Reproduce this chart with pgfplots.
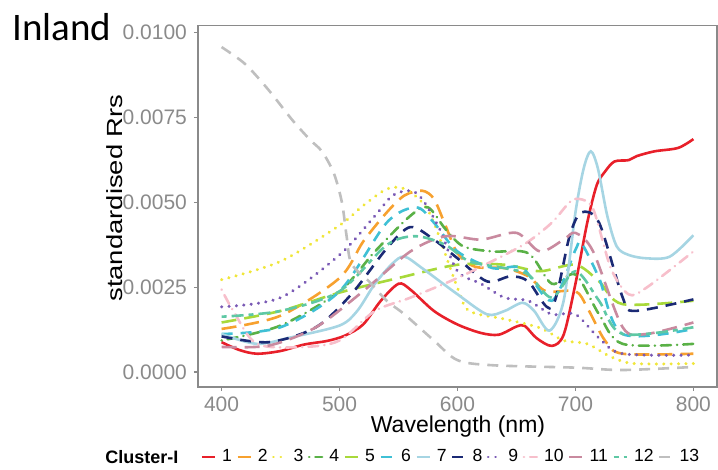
\documentclass[border=0pt]{standalone}
\usepackage{pgfplots}
\pgfplotsset{compat=1.18}
\usepackage{fontspec}
\setmainfont{Liberation Sans}
\newfontfamily\calibri{Carlito}
\definecolor{cA}{HTML}{E8202A}
\definecolor{cB}{HTML}{F7A12F}
\definecolor{cC}{HTML}{F0E63A}
\definecolor{cD}{HTML}{5AB147}
\definecolor{cE}{HTML}{A8D93A}
\definecolor{cF}{HTML}{3FC0D5}
\definecolor{cG}{HTML}{A6D5E3}
\definecolor{cH}{HTML}{1B2A75}
\definecolor{cI}{HTML}{7A5AB5}
\definecolor{cJ}{HTML}{F7BFCB}
\definecolor{cK}{HTML}{C98A9F}
\definecolor{cL}{HTML}{5EC8A4}
\definecolor{cM}{HTML}{BFBFBF}
\definecolor{tickgray}{HTML}{8A8A8A}
\definecolor{axgray}{HTML}{8A8A8A}
\tikzset{
  ldashed/.style={dash pattern=on 5.5pt off 4pt},
  ldotted/.style={dash pattern=on 0.1pt off 3.6pt, line cap=round, line width=1.6pt},
  ldotdash/.style={dash pattern=on 0.1pt off 3pt on 5pt off 3pt, line cap=round},
  llongdash/.style={dash pattern=on 7.5pt off 4pt},
  ltwodash/.style={dash pattern=on 2.5pt off 2.5pt on 6pt off 2.5pt},
}
\begin{document}
\begin{tikzpicture}[x=1pt,y=1pt]
\path[use as bounding box] (-99,-41.5) rectangle (260,193.5);
\begin{axis}[at={(0,0)}, anchor=south west, scale only axis,
  width=259.5pt, height=180.65pt,
  xmin=380, xmax=820, ymin=-0.00044, ymax=0.0102,
  xtick={400,500,...,800}, ytick={0,0.0025,0.005,0.0075,0.01},
  scaled y ticks=false,
  yticklabel style={/pgf/number format/.cd, fixed, fixed zerofill, precision=4},
  /pgf/number format/assume math mode=true,
  tick label style={font=\fontsize{10.5}{12}\selectfont, text=tickgray},
  xticklabel style={inner ysep=0.5pt, yshift=-2pt},
  axis line style={draw=axgray, line width=0.6pt},
  tick style={draw=axgray, line width=0.6pt},
  tick align=outside, major tick length=2pt,
  xtick pos=bottom, ytick pos=left,
  every axis plot/.append style={line width=1.3pt, smooth, tension=0.5},
  legend columns=13,
  legend style={at={(0.004,-0.1937)}, anchor=west, draw=none, fill=none,
    font=\fontsize{8.8}{11}\selectfont, inner sep=0pt,
    nodes={inner sep=0pt},
    /tikz/every odd column/.append style={column sep=3pt},
    /tikz/every even column/.append style={column sep=2.2pt}},
  legend image code/.code={\draw[#1, line width=1.3pt] (0pt,0pt) -- (6.5pt,0pt);},
]
\addplot[cA] coordinates {(400,0.00088)(415,0.00065)(430,0.00054)(450,0.00062)(470,0.00081)(490,0.00092)(505,0.00108)(520,0.0014)(535,0.0021)(550,0.0026)(560,0.00243)(580,0.0018)(600,0.0014)(620,0.00115)(635,0.0011)(650,0.00134)(657,0.00136)(667,0.0010)(680,0.00077)(690,0.0011)(700,0.0026)(710,0.0044)(718,0.0055)(725,0.0059)(733,0.0062)(745,0.00624)(752,0.00636)(767,0.0065)(787,0.0066)(800,0.00686)};
\addlegendentry{1}
\addplot[cB, llongdash] coordinates {(400,0.00127)(450,0.00166)(500,0.00277)(520,0.00384)(540,0.0047)(555,0.0052)(570,0.00534)(580,0.0051)(590,0.0043)(600,0.0035)(615,0.0031)(640,0.00306)(660,0.00282)(675,0.00238)(700,0.00238)(710,0.0019)(725,0.00093)(740,0.00054)(800,0.00054)};
\addlegendentry{2}
\addplot[cC, ldotted] coordinates {(400,0.00272)(450,0.00326)(500,0.00432)(520,0.0049)(540,0.00539)(555,0.0054)(570,0.005)(580,0.0044)(600,0.00248)(610,0.0018)(640,0.00156)(670,0.0013)(690,0.00093)(710,0.00083)(730,0.00045)(750,0.00025)(800,0.00025)};
\addlegendentry{3}
\addplot[cD, ldotdash] coordinates {(400,0.00093)(450,0.00137)(500,0.00238)(530,0.00355)(560,0.0046)(575,0.00485)(590,0.0042)(605,0.0037)(630,0.00355)(660,0.0035)(680,0.0026)(700,0.00287)(720,0.0017)(740,0.00083)(800,0.00083)};
\addlegendentry{4}
\addplot[cE, llongdash] coordinates {(400,0.00146)(450,0.0018)(500,0.00234)(550,0.00277)(600,0.00316)(640,0.00316)(670,0.00297)(700,0.00316)(720,0.00267)(740,0.0020)(800,0.0021)};
\addlegendentry{5}
\addplot[cF, ldashed] coordinates {(400,0.00112)(450,0.00132)(500,0.00238)(540,0.0044)(565,0.00485)(580,0.0044)(600,0.00355)(630,0.00306)(655,0.00306)(680,0.0021)(700,0.0036)(705,0.0038)(720,0.00277)(740,0.00112)(800,0.00127)};
\addlegendentry{6}
\addplot[cG] coordinates {(400,0.00112)(430,0.00083)(460,0.00103)(500,0.00137)(515,0.0018)(530,0.0026)(545,0.0032)(555,0.0034)(570,0.00306)(600,0.00229)(625,0.0017)(640,0.0018)(655,0.00204)(665,0.0018)(678,0.00122)(690,0.0021)(700,0.0047)(707,0.0060)(713,0.0065)(719,0.0060)(727,0.0046)(735,0.0037)(745,0.00345)(760,0.00335)(780,0.0034)(800,0.00403)};
\addlegendentry{7}
\addplot[cH, ldashed] coordinates {(400,0.00105)(440,0.00088)(480,0.00132)(510,0.00229)(540,0.00364)(560,0.00427)(580,0.0039)(600,0.00335)(625,0.00267)(645,0.00282)(660,0.00267)(680,0.0019)(695,0.0040)(705,0.0047)(720,0.0044)(740,0.0022)(750,0.0018)(800,0.00214)};
\addlegendentry{8}
\addplot[cI, ldotted] coordinates {(400,0.00192)(450,0.00219)(500,0.00345)(530,0.0046)(545,0.0052)(560,0.00534)(570,0.0051)(585,0.0042)(600,0.00297)(620,0.0026)(640,0.00219)(660,0.0021)(680,0.0017)(700,0.0017)(720,0.0010)(740,0.00054)(800,0.0005)};
\addlegendentry{9}
\addplot[cJ, ldotdash] coordinates {(400,0.00243)(410,0.0018)(430,0.00083)(470,0.00074)(500,0.00093)(530,0.0018)(560,0.00219)(600,0.00277)(640,0.00345)(660,0.00384)(680,0.0044)(695,0.0050)(703,0.0051)(715,0.0048)(730,0.00306)(745,0.00229)(760,0.00248)(800,0.00355)};
\addlegendentry{10}
\addplot[cK, llongdash] coordinates {(400,0.00074)(440,0.00078)(480,0.00132)(520,0.00238)(560,0.00355)(590,0.0040)(620,0.0039)(650,0.0041)(670,0.00355)(690,0.0039)(700,0.0041)(715,0.00355)(740,0.00132)(760,0.00112)(800,0.00146)};
\addlegendentry{11}
\addplot[cL, ltwodash] coordinates {(400,0.00163)(450,0.0018)(500,0.00238)(540,0.00374)(565,0.0040)(590,0.00374)(610,0.00326)(640,0.00306)(660,0.00287)(680,0.00219)(700,0.00297)(720,0.0021)(740,0.00112)(800,0.00132)};
\addlegendentry{12}
\addplot[cM, ldashed] coordinates {(400,0.00957)(420,0.00907)(440,0.0083)(460,0.00742)(475,0.00684)(485,0.0065)(495,0.00587)(502,0.0050)(506,0.0040)(510,0.0032)(525,0.00267)(540,0.0021)(555,0.0017)(580,0.00093)(600,0.00035)(630,0.0002)(700,0.00013)(740,0.00006)(800,0.00015)};
\addlegendentry{13}
\end{axis}
\node[anchor=center, rotate=90, inner sep=0pt] at (-41.5,94.5) {\scalebox{1}[0.8]{\fontsize{13.7}{15}\selectfont standardised Rrs}};
\node[anchor=center, inner sep=0pt, font=\fontsize{11.5}{13}\selectfont] at (130,-20) {Wavelength (nm)};
\node[anchor=west, inner sep=0pt, font=\fontsize{9}{11}\selectfont\bfseries] at (-46.5,-35) {Cluster-I};
\node[anchor=west, inner sep=0pt, font=\calibri\fontsize{19.5}{22}\selectfont] at (-93,180) {Inland};
\end{tikzpicture}
\end{document}
